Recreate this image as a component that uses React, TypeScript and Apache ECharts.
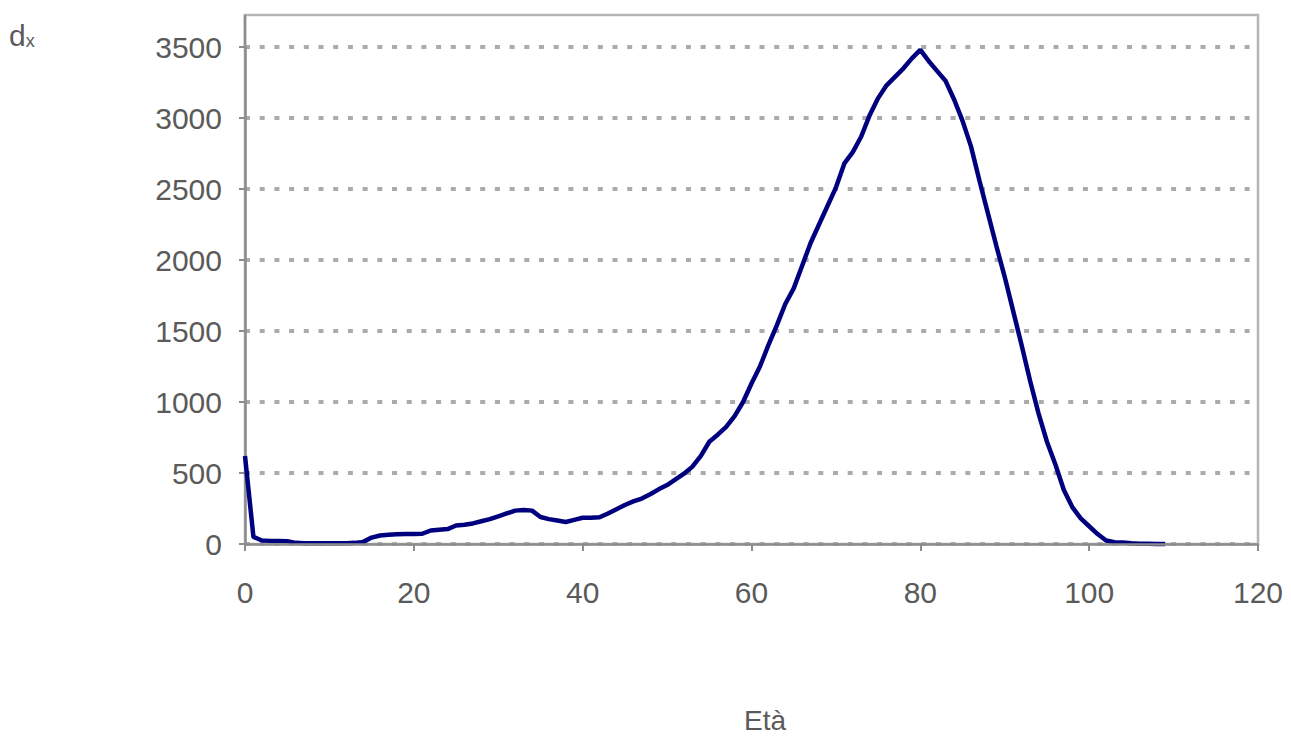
import React, { useEffect, useRef } from "react";
import * as echarts from "echarts";

// Age (years)
const ages: number[] = [
  0, 1, 2, 3, 4, 5, 6, 7, 8, 9, 10, 11, 12, 13, 14, 15, 16, 17, 18, 19,
  20, 21, 22, 23, 24, 25, 26, 27, 28, 29, 30, 31, 32, 33, 34, 35, 36, 37, 38, 39,
  40, 41, 42, 43, 44, 45, 46, 47, 48, 49, 50, 51, 52, 53, 54, 55, 56, 57, 58, 59,
  60, 61, 62, 63, 64, 65, 66, 67, 68, 69, 70, 71, 72, 73, 74, 75, 76, 77, 78, 79,
  80, 81, 82, 83, 84, 85, 86, 87, 88, 89, 90, 91, 92, 93, 94, 95, 96, 97, 98, 99,
  100, 101, 102, 103, 104, 105, 106, 107, 108, 109,
];

// d_x (deaths at each age)
const deaths: number[] = [
  620, 50, 25, 22, 22, 20, 8, 6, 5, 5, 5, 5, 6, 8, 15, 45, 60, 65, 68, 70,
  70, 72, 95, 100, 105, 130, 135, 145, 160, 175, 195, 215, 235, 240, 235, 190, 175, 165, 155, 170,
  185, 185, 188, 215, 245, 275, 300, 320, 350, 385, 415, 455, 495, 545, 620, 720, 770, 825, 900, 1000,
  1130, 1250, 1400, 1540, 1690, 1800, 1960, 2120, 2250, 2380, 2510, 2680, 2760, 2870, 3020, 3140, 3230, 3290, 3350, 3420,
  3480, 3400, 3330, 3260, 3130, 2980, 2800, 2560, 2330, 2100, 1880, 1640, 1400, 1150, 920, 720, 560, 380, 260, 180,
  125, 70, 25, 12, 10, 5, 2, 1, 0, 0,
];

const xTicks = { min: 0, max: 120, interval: 20 };
const yTicks = { min: 0, max: 3500, interval: 500 };
const xTitle = "Età";
const yTitleMain = "d";
const yTitleSub = "x";

const FONT = "'Liberation Sans', Arial, sans-serif";
const TEXT = "#5a5a5a";
const AXIS = "#8c8c8c";

export default function App() {
  const ref = useRef<HTMLDivElement>(null);

  useEffect(() => {
    if (!ref.current) return;
    const chart = echarts.init(ref.current, null, { renderer: "svg" });
    const left = 245;
    const right = 33;
    const top = 47;
    const bottom = 192;
    const W = 1291;
    const H = 736;
    chart.setOption({
      animation: false,
      backgroundColor: "#ffffff",
      textStyle: { fontFamily: FONT },
      grid: { left, right, top, bottom, containLabel: false },
      xAxis: {
        type: "value",
        min: xTicks.min,
        max: xTicks.max,
        interval: xTicks.interval,
        axisLine: { show: true, onZero: false, lineStyle: { color: AXIS, width: 2.5 } },
        axisTick: { show: true, inside: false, length: 7, lineStyle: { color: AXIS, width: 2 } },
        axisLabel: {
          color: TEXT,
          fontSize: 30,
          fontFamily: FONT,
          margin: 33,
          formatter: (v: number) => String(v),
        },
        splitLine: { show: false },
        z: 5,
      },
      yAxis: {
        type: "value",
        min: yTicks.min,
        max: yTicks.max,
        interval: yTicks.interval,
        axisLine: { show: true, lineStyle: { color: AXIS, width: 2.5 } },
        axisTick: { show: true, inside: false, length: 6, lineStyle: { color: AXIS, width: 2 } },
        axisLabel: {
          color: TEXT,
          fontSize: 30,
          fontFamily: FONT,
          margin: 23,
          formatter: (v: number) => String(v),
        },
        splitLine: {
          show: true,
          lineStyle: { color: "#ababab", width: 4, type: [5, 9.7] },
        },
      },
      graphic: [
        {
          type: "rect",
          shape: { x: left, y: 15, width: W - left - right, height: H - bottom - 15 },
          style: { fill: "none", stroke: "#b5b5b5", lineWidth: 2.5 },
          z: -1,
          silent: true,
        },
        {
          type: "line",
          shape: { x1: left, y1: 15, x2: left, y2: top },
          style: { stroke: AXIS, lineWidth: 2.5 },
          silent: true,
        },
        {
          type: "text",
          left: 9,
          top: 20,
          style: {
            text: `{a|${yTitleMain}}{b|${yTitleSub}}`,
            rich: {
              a: { fontSize: 30, fill: TEXT, fontFamily: FONT, verticalAlign: "bottom" },
              b: { fontSize: 18, fill: TEXT, fontFamily: FONT, padding: [16, 0, 0, 0] },
            },
          },
          silent: true,
        },
        {
          type: "text",
          x: 765,
          y: 720,
          style: {
            text: xTitle,
            fontSize: 28,
            fill: TEXT,
            fontFamily: FONT,
            align: "center",
            verticalAlign: "middle",
          },
          silent: true,
        },
      ],
      series: [
        {
          type: "line",
          data: ages.map((a, i) => [a, deaths[i]]),
          showSymbol: false,
          symbol: "none",
          lineStyle: { color: "#00007f", width: 4.5 },
          clip: false,
          z: 3,
        },
      ],
    });
    return () => chart.dispose();
  }, []);

  return (
    <div
      ref={ref}
      style={{ position: "absolute", left: 0, top: 0, width: 1291, height: 736 }}
    />
  );
}
